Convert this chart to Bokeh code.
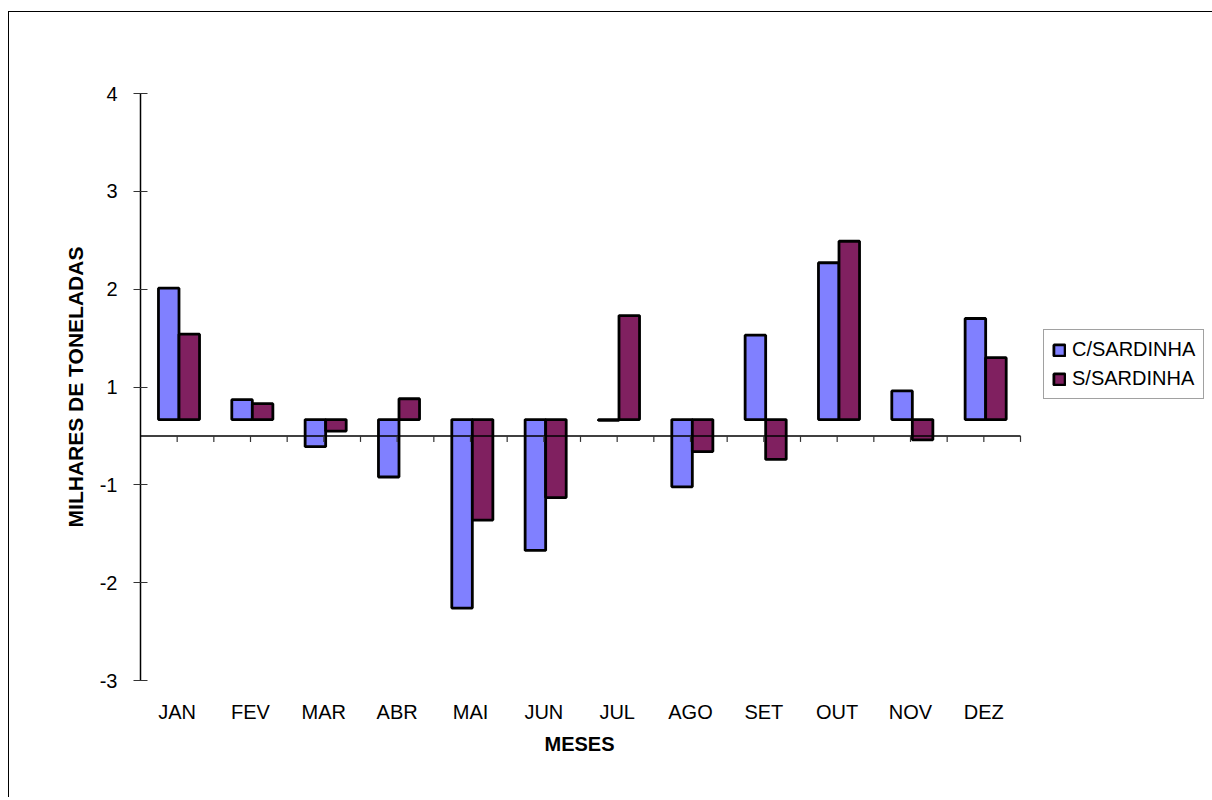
import numpy as np
from bokeh.plotting import figure
from bokeh.models import Range1d, FixedTicker, Legend, LegendItem, ColumnDataSource, Title
from bokeh.transform import dodge
from bokeh.embed import file_html
from bokeh.resources import INLINE

# ---- data (in the drawn axis units:
#      tick "1" sits at 0.5, tick "-1" at -0.5, bars start at bar_base) ----
months = ["JAN", "FEV", "MAR", "ABR", "MAI", "JUN", "JUL", "AGO", "SET", "OUT", "NOV", "DEZ"]
com_sardinha = [1.51, 0.37, -0.11, -0.42, -1.76, -1.17, 0.16, -0.52, 1.03, 1.77, 0.46, 1.20]
sem_sardinha = [1.04, 0.33, 0.05, 0.38, -0.86, -0.63, 1.23, -0.16, -0.24, 1.99, -0.04, 0.80]
bar_base = 0.167
y_tick_pos = [3.5, 2.5, 1.5, 0.5, -0.5, -1.5, -2.5]
y_tick_labels = ["4", "3", "2", "1", "-1", "-2", "-3"]
series_names = ["C/SARDINHA", "S/SARDINHA"]

FONT = "Liberation Sans"
BLUE = "#8080FF"
PLUM = "#802060"

n = len(months)
centers = np.arange(n) + 0.5
src = ColumnDataSource(dict(
    x=centers,
    c=com_sardinha,
    s=sem_sardinha,
    base=[bar_base] * n,
))

# layout: category area 880 px wide; frame extended to the right to hold the legend
CAT_W, FRAME_H = 880, 587
ML, MT, MB = 131, 81, 117
FRAME_W = 1203 - ML
x_end = n * FRAME_W / CAT_W

p = figure(frame_width=FRAME_W, frame_height=FRAME_H, output_backend="svg",
           toolbar_location=None,
           x_range=Range1d(0, x_end), y_range=Range1d(min(y_tick_pos), max(y_tick_pos)),
           min_border_left=ML, min_border_top=MT, min_border_right=0,
           min_border_bottom=MB)
p.styles = {"border-left": "1px solid black", "border-top": "1px solid black",
            "margin-top": "11px", "margin-left": "8px"}
p.outline_line_color = None
p.xgrid.visible = False
p.ygrid.visible = False
p.background_fill_color = "white"
p.border_fill_color = "white"

bw = 0.28
r1 = p.vbar(x=dodge("x", -0.115, range=p.x_range), width=bw, bottom="base", top="c",
            source=src, fill_color=BLUE, line_color="black", line_width=2.8)
r2 = p.vbar(x=dodge("x", 0.165, range=p.x_range), width=bw, bottom="base", top="s",
            source=src, fill_color=PLUM, line_color="black", line_width=2.8)

# horizontal category axis line at zero with ticks at centres & boundaries
p.segment(x0=[0], y0=[0], x1=[n], y1=[0], line_color="black", line_width=1.5)
px_per_unit = FRAME_H / (max(y_tick_pos) - min(y_tick_pos))
tick_len = 6 / px_per_unit
tx = np.arange(1, 2 * n + 1) * 0.5
p.segment(x0=tx, y0=np.zeros(len(tx)), x1=tx, y1=np.full(len(tx), -tick_len),
          line_color="#333333", line_width=1.2)

# x axis (labels only, at bottom of frame)
xa = p.xaxis[0]
xa.ticker = FixedTicker(ticks=list(centers))
xa.major_label_overrides = {float(c): m for c, m in zip(centers, months)}
xa.axis_line_color = None
xa.major_tick_line_color = None
xa.minor_tick_line_color = None
xa.major_label_standoff = 14
xa.major_label_text_font = FONT
xa.major_label_text_font_size = "20px"
xa.major_label_text_color = "black"
xa.axis_label = None

# "MESES" title centred under the category area (frame is wider for the legend)
meses = Title(text="MESES", align="left", offset=CAT_W / 2 - 36, standoff=10,
              text_font=FONT, text_font_size="20px", text_font_style="bold",
              text_color="black")
p.add_layout(meses, "below")

# y axis
ya = p.yaxis[0]
ya.ticker = FixedTicker(ticks=y_tick_pos)
ya.major_label_overrides = {float(v): t for v, t in zip(y_tick_pos, y_tick_labels)}
ya.axis_line_color = "black"
ya.axis_line_width = 1.5
ya.major_tick_in = 7
ya.major_tick_out = 7
ya.major_tick_line_color = "#333333"
ya.minor_tick_line_color = None
ya.major_label_standoff = 16
ya.major_label_text_font = FONT
ya.major_label_text_font_size = "20px"
ya.major_label_text_color = "black"
ya.axis_label = "MILHARES DE TONELADAS"
ya.axis_label_text_font = FONT
ya.axis_label_text_font_size = "21px"
ya.axis_label_text_font_style = "bold"
ya.axis_label_text_color = "black"
ya.axis_label_standoff = 10

legend = Legend(items=[LegendItem(label=series_names[0], renderers=[r1]),
                       LegendItem(label=series_names[1], renderers=[r2])],
                location=(903, 281), orientation="vertical",
                border_line_color="#444444", border_line_width=1,
                background_fill_color="white", background_fill_alpha=1,
                label_text_font=FONT, label_text_font_size="20px",
                label_text_color="black",
                glyph_width=14, glyph_height=14, label_standoff=6,
                padding=8, spacing=6, margin=0)
p.add_layout(legend, "center")

open("out.html", "w").write(file_html(p, INLINE))
